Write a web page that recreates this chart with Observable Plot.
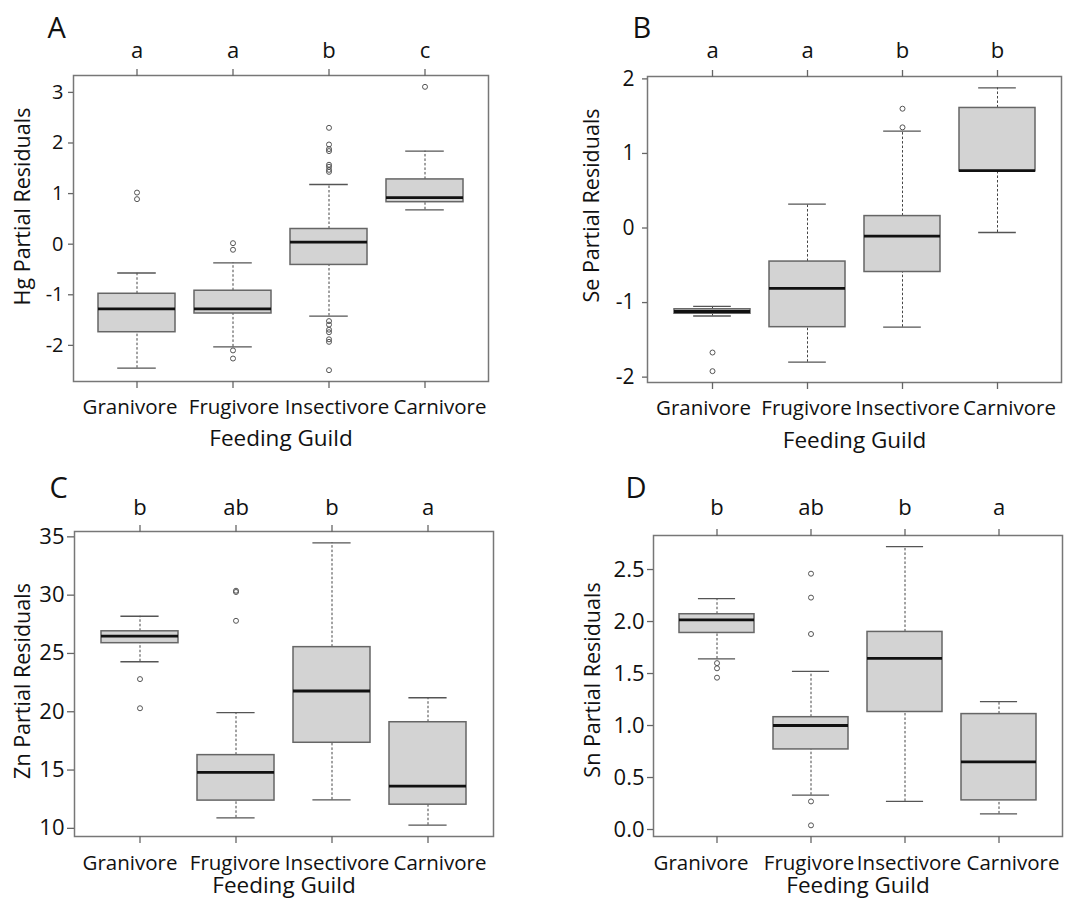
<!DOCTYPE html>
<html><head><meta charset="utf-8">
<script src="https://cdn.jsdelivr.net/npm/d3@7"></script>
<script src="https://cdn.jsdelivr.net/npm/@observablehq/plot@0.6"></script>
<style>
body{margin:0;background:#fff;}
#wrap{position:relative;width:1081px;height:899px;overflow:hidden;background:#fff;}
.panel{position:absolute;}
.panel svg{overflow:visible;background:transparent;}
</style></head><body><div id="wrap"></div>
<script>
const guilds = ["Granivore","Frugivore","Insectivore","Carnivore"];

// Each row: [lower whisker, Q1, median, Q3, upper whisker]
const hgBoxes = [[-2.45,-1.74,-1.28,-0.98,-0.57],[-2.03,-1.37,-1.28,-0.92,-0.37],[-1.42,-0.41,0.04,0.30,1.18],[0.68,0.83,0.92,1.28,1.84]];
const hgOutliers = [[1.02,0.89],[0.02,-0.11,-2.10,-2.26],[2.30,1.97,1.88,1.84,1.57,1.53,1.47,1.43,-1.52,-1.59,-1.69,-1.74,-1.88,-1.93,-2.49],[3.11]];
const hgLetters = ["a","a","b","c"];
const hgTicks = [-2,-1,0,1,2,3];

const seBoxes = [[-1.18,-1.15,-1.12,-1.09,-1.05],[-1.80,-1.33,-0.81,-0.45,0.32],[-1.33,-0.59,-0.11,0.16,1.30],[-0.06,0.76,0.77,1.61,1.88]];
const seOutliers = [[-1.67,-1.92],[],[1.60,1.35],[]];
const seLetters = ["a","a","b","b"];
const seTicks = [-2,-1,0,1,2];

const znBoxes = [[24.29,25.88,26.48,26.9,28.19],[10.9,12.38,14.8,16.28,19.93],[12.44,17.34,21.78,25.54,34.49],[10.27,12.03,13.63,19.1,21.2]];
const znOutliers = [[22.8,20.3],[30.38,30.27,27.8],[],[]];
const znLetters = ["b","ab","b","a"];
const znTicks = [10,15,20,25,30,35];

const snBoxes = [[1.64,1.89,2.015,2.07,2.22],[0.33,0.77,1.00,1.08,1.52],[0.27,1.13,1.645,1.90,2.72],[0.15,0.28,0.65,1.11,1.23]];
const snOutliers = [[1.60,1.55,1.46],[2.46,2.23,1.88,0.27,0.04],[],[]];
const snLetters = ["b","ab","b","a"];
const snTicks = [0,0.5,1,1.5,2,2.5];

const panels = [
  {key:"A", label:"Hg Partial Residuals", boxes:hgBoxes, outliers:hgOutliers, letters:hgLetters, ticks:hgTicks, fmt:d=>String(d),
   left:0, top:0, width:540, height:450, ml:73, mr:52, mt:75, mb:69, kdx:-26, kdy:-38, ydx:-50, ydy:-22, xdy:64, tp:11, bp:11,
   shift:[-7,1,8,15], yfs:20, ytk:5, ypad:5},
  {key:"B", label:"Se Partial Residuals", boxes:seBoxes, outliers:seOutliers, letters:seLetters, ticks:seTicks, fmt:d=>String(d),
   left:540, top:0, width:541, height:450, ml:107, mr:20, mt:76, mb:68, kdx:-15, kdy:-39, ydx:-55, ydy:-24, xdy:65, tp:12, bp:11,
   shift:[-9,-1,5,12], yfs:21, ytk:5, ypad:8},
  {key:"C", label:"Zn Partial Residuals", boxes:znBoxes, outliers:znOutliers, letters:znLetters, ticks:znTicks, fmt:d=>String(d),
   left:0, top:450, width:540, height:449, ml:74, mr:47, mt:81, mb:63, kdx:-25, kdy:-34, ydx:-51, ydy:-3, xdy:56, tp:10, bp:12,
   shift:[-10,-1,5,12], yfs:22, ytk:7, ypad:3},
  {key:"D", label:"Sn Partial Residuals", boxes:snBoxes, outliers:snOutliers, letters:snLetters, ticks:snTicks, fmt:d3.format(".1f"),
   left:540, top:450, width:541, height:449, ml:113, mr:19, mt:85, mb:63, kdx:-28, kdy:-38, ydx:-60, ydy:-6, xdy:56, tp:14, bp:12,
   shift:[-16,-2,4,14], yfs:22, ytk:6, ypad:3}
];

function makePanel(p){
  const rows = guilds.map((g,i)=>({guild:g, lo:p.boxes[i][0], q1:p.boxes[i][1], med:p.boxes[i][2], q3:p.boxes[i][3], hi:p.boxes[i][4]}));
  const outs = guilds.flatMap((g,i)=>p.outliers[i].map(v=>({guild:g, v})));
  const all = rows.flatMap(r=>[r.lo,r.hi]).concat(outs.map(o=>o.v));
  const [mn,mx] = d3.extent(all);
  const pad = (mx-mn)*0.04;
  const fw = p.width - p.ml - p.mr;
  const bw = 0.8*fw/4.32;
  const letterMap = new Map(guilds.map((g,i)=>[g,p.letters[i]]));
  const ink = "#111";
  const catLabels = guilds.map((g,i)=>Plot.text([g],{x:d=>d, frameAnchor:"bottom", textAnchor:"middle", lineAnchor:"top",
      dx:p.shift[i], dy:7+p.bp, fontSize:20.5, fill:ink}));
  return Plot.plot({
    width:p.width, height:p.height,
    marginLeft:p.ml, marginRight:p.mr, marginTop:p.mt, marginBottom:p.mb,
    style:{fontFamily:'"Open Sans", sans-serif', fontSize:"20px", color:ink, background:"transparent", overflow:"visible"},
    x:{type:"band", domain:guilds, paddingInner:0.2, paddingOuter:0.26},
    y:{domain:[mn-pad, mx+pad]},
    marks:[
      Plot.ruleX(rows,{x:"guild", y1:"q3", y2:"hi", stroke:"#444", strokeWidth:1, strokeDasharray:"2.5,2"}),
      Plot.ruleX(rows,{x:"guild", y1:"lo", y2:"q1", stroke:"#444", strokeWidth:1, strokeDasharray:"2.5,2"}),
      Plot.tickY(rows,{x:"guild", y:"hi", insetLeft:bw/4, insetRight:bw/4, stroke:"#555", strokeWidth:1.3}),
      Plot.tickY(rows,{x:"guild", y:"lo", insetLeft:bw/4, insetRight:bw/4, stroke:"#555", strokeWidth:1.3}),
      Plot.rectY(rows,{x:"guild", y1:"q1", y2:"q3", fill:"#d3d3d3", stroke:"#666", strokeWidth:1.5}),
      Plot.tickY(rows,{x:"guild", y:"med", stroke:"#111", strokeWidth:2.8}),
      Plot.dot(outs,{x:"guild", y:"v", r:2.5, stroke:"#555", strokeWidth:1, fill:"none"}),
      Plot.frame({stroke:"#777", strokeWidth:1.5}),
      Plot.axisY({ticks:p.ticks, tickFormat:p.fmt, tickSize:p.ytk, tickPadding:p.ypad, label:null, fontSize:p.yfs, stroke:"#666", strokeWidth:1.3}),
      Plot.axisX({anchor:"bottom", tickSize:7, tickPadding:p.bp, tickFormat:null, label:null, stroke:"#666", strokeWidth:1.3}),
      ...catLabels,
      Plot.axisX({anchor:"top", tickSize:7, tickPadding:p.tp, tickFormat:d=>letterMap.get(d), label:null, fontSize:22, stroke:"#666", strokeWidth:1.3}),
      Plot.text([p.label],{frameAnchor:"left", textAnchor:"middle", lineAnchor:"middle", rotate:-90, dx:p.ydx, dy:p.ydy, fontSize:21.5, fill:ink}),
      Plot.text(["Feeding Guild"],{frameAnchor:"bottom", textAnchor:"middle", lineAnchor:"bottom", dy:p.xdy, fontSize:22.5, fill:ink}),
      Plot.text([p.key],{frameAnchor:"top-left", textAnchor:"start", lineAnchor:"bottom", dx:p.kdx, dy:p.kdy, fontSize:29, fill:"#111"})
    ]
  });
}

const wrap = document.getElementById("wrap");
for (const p of panels){
  const div = document.createElement("div");
  div.className = "panel";
  div.style.left = p.left+"px";
  div.style.top = p.top+"px";
  div.style.width = p.width+"px";
  div.style.height = p.height+"px";
  div.appendChild(makePanel(p));
  wrap.appendChild(div);
}
</script></body></html>
